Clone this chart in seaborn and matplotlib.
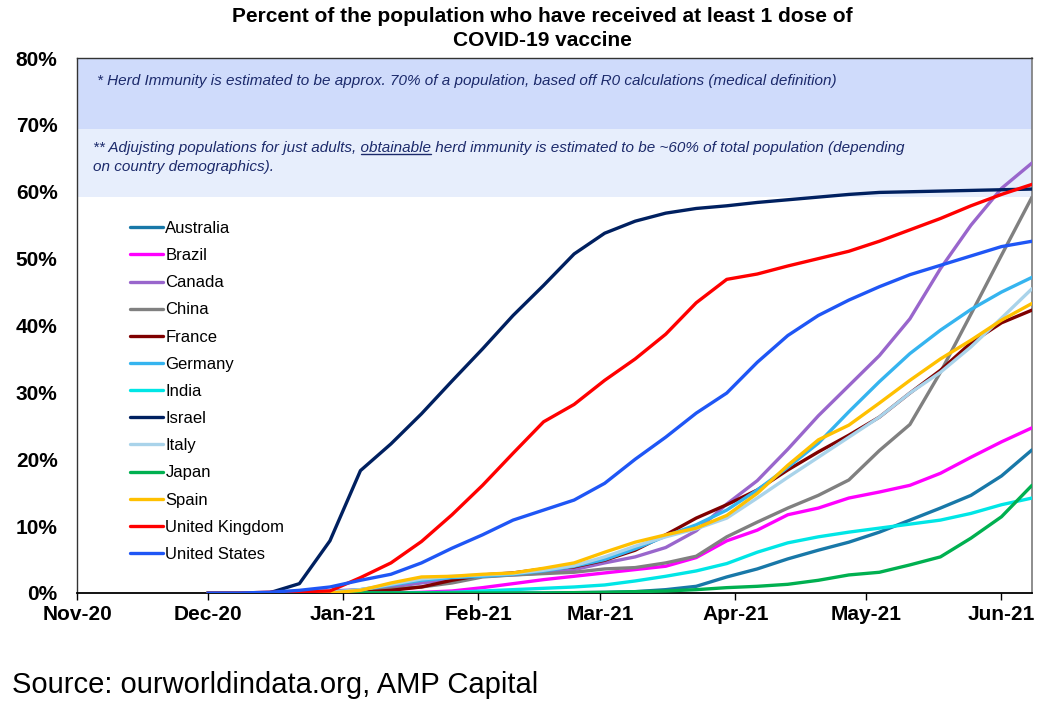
import pandas as pd
import seaborn as sns
import matplotlib
matplotlib.use("Agg")
import matplotlib.pyplot as plt
from matplotlib.lines import Line2D
from matplotlib.ticker import MultipleLocator, FuncFormatter

# weekly readings, % of population with at least 1 dose
dates = ["2020-12-01", "2020-12-08", "2020-12-15", "2020-12-22", "2020-12-29",
         "2021-01-05", "2021-01-12", "2021-01-19", "2021-01-26", "2021-02-02",
         "2021-02-09", "2021-02-16", "2021-02-23", "2021-03-02", "2021-03-09",
         "2021-03-16", "2021-03-23", "2021-03-30", "2021-04-06", "2021-04-13",
         "2021-04-20", "2021-04-27", "2021-05-04", "2021-05-11", "2021-05-18",
         "2021-05-25", "2021-06-01", "2021-06-08"]

australia = [0, 0, 0, 0, 0, 0, 0, 0, 0, 0, 0, 0, 0.05, 0.1, 0.2, 0.5, 1.0, 2.4,
             3.6, 5.1, 6.4, 7.6, 9.1, 10.9, 12.7, 14.6, 17.5, 21.4]
brazil = [0, 0, 0, 0, 0, 0, 0, 0.1, 0.3, 0.8, 1.4, 2.0, 2.5, 3.0, 3.5, 4.0, 5.3, 7.8,
          9.4, 11.7, 12.7, 14.2, 15.1, 16.1, 17.9, 20.3, 22.6, 24.7]
canada = [0, 0, 0.1, 0.2, 0.3, 0.5, 0.9, 1.5, 2.1, 2.5, 2.7, 3.0, 3.5, 4.5, 5.4, 6.8, 9.3, 13.3,
          16.8, 21.5, 26.5, 31.0, 35.5, 41.0, 48.5, 55.0, 60.5, 64.3]
china = [0, 0, 0, 0, 0, 0.3, 0.6, 0.9, 1.5, 2.4, 2.7, 2.9, 3.1, 3.6, 3.8, 4.5, 5.5, 8.4,
         10.6, 12.7, 14.6, 16.9, 21.3, 25.2, 33.0, 41.7, 50.5, 59.2]
france = [0, 0, 0, 0, 0, 0.1, 0.4, 0.9, 1.9, 2.7, 3.0, 3.6, 3.9, 4.9, 6.4, 8.7, 11.2, 13.2,
          15.4, 18.4, 21.1, 23.6, 26.3, 29.9, 33.3, 37.4, 40.4, 42.3]
germany = [0, 0, 0, 0, 0.1, 0.5, 1.2, 1.9, 2.3, 2.5, 2.8, 3.3, 4.0, 5.0, 6.6, 8.5, 10.2, 12.4,
           15.4, 18.8, 22.4, 27.1, 31.6, 35.8, 39.3, 42.4, 45.0, 47.2]
india = [0, 0, 0, 0, 0, 0, 0, 0.05, 0.1, 0.3, 0.5, 0.7, 0.9, 1.2, 1.8, 2.5, 3.3, 4.4,
         6.1, 7.5, 8.4, 9.1, 9.7, 10.3, 10.9, 11.9, 13.2, 14.2]
israel = [0, 0, 0, 1.4, 7.8, 18.3, 22.3, 26.8, 31.7, 36.5, 41.5, 46.0, 50.7, 53.8, 55.6, 56.8, 57.5, 57.9,
          58.4, 58.8, 59.2, 59.6, 59.9, 60.0, 60.1, 60.2, 60.3, 60.4]
italy = [0, 0, 0, 0, 0.1, 0.5, 1.3, 2.1, 2.5, 2.7, 2.9, 3.4, 4.1, 5.4, 7.0, 8.4, 9.6, 11.2,
         14.2, 17.3, 20.3, 23.3, 26.3, 29.9, 33.0, 36.8, 41.1, 45.5]
japan = [0, 0, 0, 0, 0, 0, 0, 0, 0, 0, 0, 0, 0.05, 0.1, 0.2, 0.3, 0.5, 0.8,
         1.0, 1.3, 1.9, 2.7, 3.1, 4.2, 5.4, 8.2, 11.4, 16.1]
spain = [0, 0, 0, 0, 0, 0.4, 1.5, 2.4, 2.5, 2.8, 3.0, 3.7, 4.5, 6.1, 7.6, 8.7, 9.7, 11.6,
         14.9, 19.1, 22.9, 25.1, 28.4, 31.8, 35.0, 37.8, 40.8, 43.3]
uk = [0, 0, 0.1, 0.2, 0.3, 2.3, 4.5, 7.7, 11.7, 16.1, 20.9, 25.6, 28.2, 31.8, 35.0, 38.7, 43.4, 46.9,
      47.7, 48.9, 50.0, 51.1, 52.6, 54.3, 56.0, 57.9, 59.6, 61.1]
us = [0, 0, 0.1, 0.4, 0.9, 1.9, 2.8, 4.5, 6.7, 8.7, 10.9, 12.4, 13.9, 16.4, 20.0, 23.3, 26.9, 29.9,
      34.5, 38.5, 41.5, 43.8, 45.8, 47.6, 49.0, 50.4, 51.8, 52.6]

countries = ["Australia", "Brazil", "Canada", "China", "France", "Germany", "India",
             "Israel", "Italy", "Japan", "Spain", "United Kingdom", "United States"]
series = [australia, brazil, canada, china, france, germany, india,
          israel, italy, japan, spain, uk, us]
colors = ["#1878a8", "#ff00ff", "#9966cc", "#808080", "#7f0000", "#35b4ef", "#00e6e6",
          "#002060", "#a9d3ea", "#00b050", "#ffc000", "#ff0000", "#1f56f5"]

month_ticks = ["2020-11-01", "2020-12-01", "2021-01-01", "2021-02-01", "2021-03-01",
               "2021-04-01", "2021-05-01", "2021-06-01"]
month_labels = ["Nov-20", "Dec-20", "Jan-21", "Feb-21", "Mar-21", "Apr-21", "May-21", "Jun-21"]

note1 = "* Herd Immunity is estimated to be approx. 70% of a population, based off R0 calculations (medical definition)"
note2a = "** Adjujsting populations for just adults, "
note2_word = "obtainable"
note2b = "** Adjujsting populations for just adults, obtainable herd immunity is estimated to be ~60% of total population (depending"
note2c = "on country demographics)."

df = pd.DataFrame({"date": pd.to_datetime(dates)})
for name, vals in zip(countries, series):
    df[name] = vals
df = df.melt(id_vars="date", var_name="country", value_name="pct")

sns.set_theme(style="white")
plt.rcParams["font.family"] = ["Liberation Sans", "DejaVu Sans"]
plt.rcParams["text.color"] = "black"
plt.rcParams["xtick.color"] = "black"
plt.rcParams["ytick.color"] = "black"

fig = plt.figure(figsize=(10.5, 7.11), dpi=100)
ax = fig.add_axes([77 / 1050, 1 - 593 / 711, 955 / 1050, 535 / 711])

ax.axhspan(69.4, 80, color="#cfdbfb", lw=0, zorder=0)
ax.axhspan(59.2, 69.4, color="#e7eefc", lw=0, zorder=0)

sns.lineplot(data=df, x="date", y="pct", hue="country", hue_order=countries,
             palette=dict(zip(countries, colors)), linewidth=2.4, ax=ax, zorder=3)

ax.set_xlim(pd.Timestamp("2020-11-01"), pd.Timestamp("2021-06-08"))
ax.set_ylim(0, 80)
ax.set_xticks(pd.to_datetime(month_ticks), month_labels, fontweight="bold", fontsize=15)
ax.yaxis.set_major_locator(MultipleLocator(10))
ax.yaxis.set_major_formatter(FuncFormatter(lambda v, p: f"{v:.0f}%"))
for lbl in ax.get_yticklabels():
    lbl.set_fontweight("bold")
    lbl.set_fontsize(15)
ax.set_xlabel("")
ax.set_ylabel("")
ax.tick_params(axis="x", direction="out", length=5, width=1, colors="black", pad=4, bottom=True)
ax.tick_params(axis="y", length=0, pad=14, colors="black")

for side in ["top", "left"]:
    ax.spines[side].set_color("#333333")
    ax.spines[side].set_linewidth(1)
ax.spines["right"].set_color("#7a7a7a")
ax.spines["right"].set_linewidth(1.2)
ax.spines["bottom"].set_color("black")
ax.spines["bottom"].set_linewidth(1.3)

handles, labels = ax.get_legend_handles_labels()
leg = ax.legend(handles, labels, loc="upper left", bbox_to_anchor=(130 / 1050, 1 - 221 / 711),
                bbox_transform=fig.transFigure, frameon=False, fontsize=12,
                handlelength=2.0, handletextpad=0.12, labelspacing=0.73,
                borderpad=0, borderaxespad=0)
for txt in leg.get_texts():
    txt.set_color("black")

note_color = "#1c2a6b"
ytr = ax.get_yaxis_transform()
ax.text(0.021, 75.9, note1, transform=ytr, style="italic", color=note_color,
        fontsize=11, va="baseline", zorder=4)
t2 = ax.text(0.0168, 65.96, note2b, transform=ytr, style="italic", color=note_color,
             fontsize=11, va="baseline", zorder=4)
ax.text(0.0168, 63.11, note2c, transform=ytr, style="italic", color=note_color,
        fontsize=11, va="baseline", zorder=4)

# underline "obtainable"
fig.canvas.draw()
r = fig.canvas.get_renderer()
fp = t2.get_fontproperties()
w_pre, _, _ = r.get_text_width_height_descent(note2a + note2_word, fp, ismath=False)
w_word, _, _ = r.get_text_width_height_descent(note2_word, fp, ismath=False)
x0, y0 = ytr.transform((0.0168, 65.96))
p1 = fig.transFigure.inverted().transform((x0 + w_pre - w_word, y0 - 2.5))
p2 = fig.transFigure.inverted().transform((x0 + w_pre, y0 - 2.5))
fig.add_artist(Line2D([p1[0], p2[0]], [p1[1], p2[1]], transform=fig.transFigure,
                      color=note_color, lw=1))

fig.text(542 / 1050, 1 - 17 / 711, "Percent of the population who have received at least 1 dose of",
         ha="center", va="center", fontsize=15, fontweight="bold", color="black")
fig.text(542 / 1050, 1 - 40 / 711, "COVID-19 vaccine",
         ha="center", va="center", fontsize=15, fontweight="bold", color="black")
fig.text(12 / 1050, 1 - 685 / 711, "Source: ourworldindata.org, AMP Capital",
         ha="left", va="center", fontsize=21, color="black")

fig.savefig("out.png", dpi=100)
